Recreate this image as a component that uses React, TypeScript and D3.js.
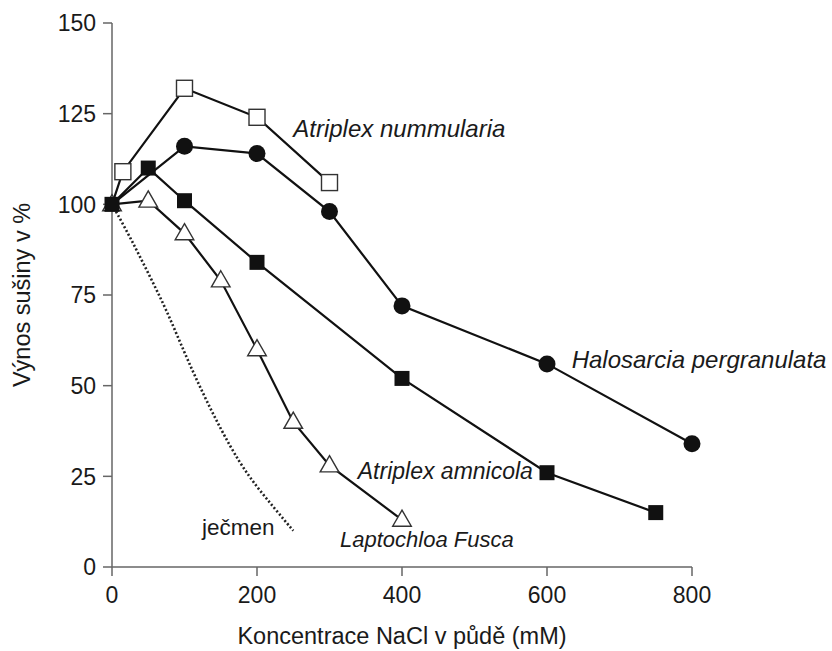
import * as d3 from "d3";

// NaCl concentration (mM) and dry-matter yield (%)
const nummX = [0, 15, 100, 200, 300];
const nummY = [100, 109, 132, 124, 106];
const haloX = [0, 100, 200, 300, 400, 600, 800];
const haloY = [100, 116, 114, 98, 72, 56, 34];
const amniX = [0, 50, 100, 200, 400, 600, 750];
const amniY = [100, 110, 101, 84, 52, 26, 15];
const laptX = [0, 50, 100, 150, 200, 250, 300, 400];
const laptY = [100, 101, 92, 79, 60, 40, 28, 13];
const barleyX = [0, 25, 50, 75, 100, 125, 150, 175, 200, 225, 250];
const barleyY = [100, 91, 81, 71, 59, 48, 38, 29, 22, 16, 10];

const xTicks = [0, 200, 400, 600, 800];
const yTicks = [0, 25, 50, 75, 100, 125, 150];

const W = 832;
const H = 651;
const FONT = "'Liberation Sans', Arial, Helvetica, sans-serif";

const zip = (xs: number[], ys: number[]) => xs.map((x, i) => [x, ys[i]] as [number, number]);

export default function App() {
  const x = d3.scaleLinear().domain([0, 800]).range([112, 692]);
  const y = d3.scaleLinear().domain([0, 150]).range([567, 23]);

  const line = d3.line<[number, number]>().x((d) => x(d[0])).y((d) => y(d[1]));
  const curve = d3
    .line<[number, number]>()
    .x((d) => x(d[0]))
    .y((d) => y(d[1]))
    .curve(d3.curveBasis);

  const numm = zip(nummX, nummY);
  const halo = zip(haloX, haloY);
  const amni = zip(amniX, amniY);
  const lapt = zip(laptX, laptY);
  const barley = zip(barleyX, barleyY);

  const tri = d3.symbol().type(d3.symbolTriangle).size(150)();

  const axisColor = "#666";
  const textColor = "#1a1a1a";

  return (
    <svg
      width={W}
      height={H}
      style={{ position: "absolute", left: 0, top: 0, background: "#fff" }}
      fontFamily={FONT}
    >
      <rect width={W} height={H} fill="#fff" />

      {/* axes */}
      <line x1={x(0)} x2={x(0)} y1={y(150)} y2={y(0)} stroke={axisColor} strokeWidth={1.5} />
      <line x1={x(0)} x2={x(800)} y1={y(0)} y2={y(0)} stroke={axisColor} strokeWidth={1.5} />
      {yTicks.map((t) => (
        <g key={"y" + t}>
          <line x1={x(0) - 9} x2={x(0)} y1={y(t)} y2={y(t)} stroke={axisColor} strokeWidth={1.5} />
          <text x={x(0) - 16} y={y(t)} dy="0.36em" textAnchor="end" fontSize={23} fill={textColor}>
            {t}
          </text>
        </g>
      ))}
      {xTicks.map((t) => (
        <g key={"x" + t}>
          <line x1={x(t)} x2={x(t)} y1={y(0)} y2={y(0) + 9} stroke={axisColor} strokeWidth={1.5} />
          <text x={x(t)} y={y(0) + 36} textAnchor="middle" fontSize={23} fill={textColor}>
            {t}
          </text>
        </g>
      ))}
      <text x={(x(0) + x(800)) / 2} y={644} textAnchor="middle" fontSize={23.5} fill={textColor}>
        Koncentrace NaCl v půdě (mM)
      </text>
      <text
        transform={`translate(30,${(y(0) + y(150)) / 2}) rotate(-90)`}
        textAnchor="middle"
        fontSize={23.5}
        fill={textColor}
      >
        Výnos sušiny v %
      </text>

      {/* barley, dotted */}
      <path d={curve(barley) || ""} fill="none" stroke="#222" strokeWidth={2.6} strokeDasharray="2,2.2" />

      {/* series lines */}
      {[numm, halo, amni, lapt].map((s, i) => (
        <path key={"l" + i} d={line(s) || ""} fill="none" stroke="#111" strokeWidth={2.2} />
      ))}

      {/* Atriplex nummularia: open squares */}
      {numm.slice(1).map((d, i) => (
        <rect
          key={"ns" + i}
          x={x(d[0]) - 8}
          y={y(d[1]) - 8}
          width={16}
          height={16}
          fill="#fff"
          stroke="#333"
          strokeWidth={1.4}
        />
      ))}
      {/* Halosarcia: filled circles */}
      {halo.slice(1).map((d, i) => (
        <circle key={"hc" + i} cx={x(d[0])} cy={y(d[1])} r={8.5} fill="#111" />
      ))}
      {/* Laptochloa: open triangles */}
      {lapt.map((d, i) => (
        <path
          key={"lt" + i}
          d={tri || ""}
          transform={`translate(${x(d[0])},${y(d[1]) + 1})`}
          fill="#fff"
          stroke="#333"
          strokeWidth={1.4}
        />
      ))}
      {/* Atriplex amnicola: filled squares */}
      {amni.map((d, i) => (
        <rect key={"as" + i} x={x(d[0]) - 7.5} y={y(d[1]) - 7.5} width={15} height={15} fill="#111" />
      ))}

      {/* labels */}
      <g fontStyle="italic" fill={textColor}>
        <text x={x(250)} y={y(118.6)} fontSize={24}>
          Atriplex nummularia
        </text>
        <text x={x(634)} y={y(54.9)} fontSize={24}>
          Halosarcia pergranulata
        </text>
        <text x={x(339)} y={y(24.3)} fontSize={23}>
          Atriplex amnicola
        </text>
        <text x={x(314.5)} y={y(5.5)} fontSize={22}>
          Laptochloa Fusca
        </text>
      </g>
      <text x={x(124)} y={y(8.8)} fontSize={22.5} fill={textColor}>
        ječmen
      </text>
    </svg>
  );
}
